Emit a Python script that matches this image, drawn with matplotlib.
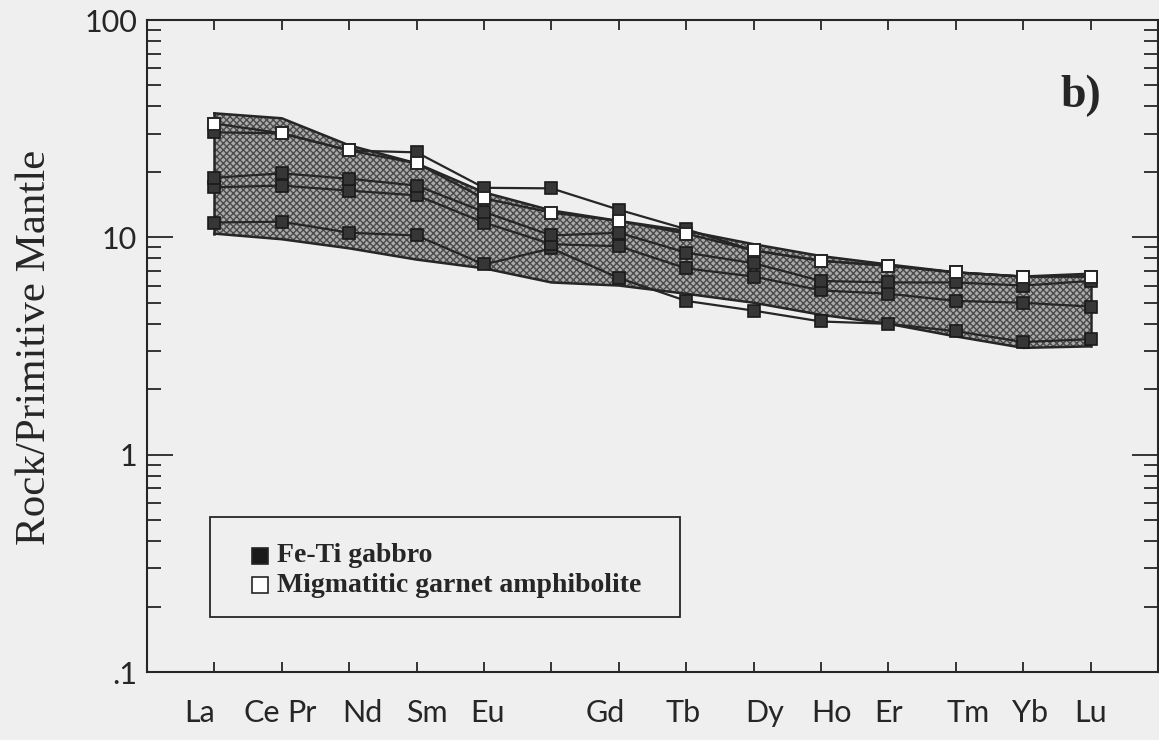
import matplotlib
matplotlib.use("Agg")
import matplotlib.pyplot as plt
from matplotlib.patches import Rectangle
from matplotlib.ticker import FixedLocator, FixedFormatter, NullFormatter

# REE normalised to primitive mantle
elements = ["La", "Ce", "Pr", "Nd", "Sm", "Eu", "Gd", "Tb", "Dy", "Ho", "Er", "Tm", "Yb", "Lu"]
positions = list(range(1, 15))

band_upper = [37.2, 35.3, 26.5, 21.9, 16.1, 13.3, 11.9, 10.7, 9.3, 8.2, 7.5, 6.9, 6.6, 6.8]
band_lower = [10.4, 9.8, 8.9, 7.9, 7.2, 6.2, 6.0, 5.5, 5.0, 4.4, 4.0, 3.5, 3.1, 3.15]

gabbro_1 = [30.4, 30.1, 25.1, 24.6, 16.9, 16.8, 13.4, 10.9, 8.7, 7.8, 7.4, 6.9, 6.6, 6.6]
gabbro_2 = [18.8, 19.7, 18.6, 17.3, 13.1, 10.2, 10.5, 8.5, 7.6, 6.3, 6.2, 6.2, 6.0, 6.3]
gabbro_3 = [17.0, 17.3, 16.4, 15.6, 11.7, 9.3, 9.1, 7.2, 6.6, 5.7, 5.5, 5.1, 5.0, 4.8]
gabbro_4 = [11.7, 11.8, 10.5, 10.2, 7.5, 8.9, 6.5, 5.1, 4.6, 4.1, 4.0, 3.7, 3.3, 3.4]
amphibolite = [33.4, 30.1, 25.1, 21.9, 15.1, 13.0, 11.9, 10.4, 8.7, 7.8, 7.4, 6.9, 6.6, 6.6]

legend_labels = ["Fe-Ti gabbro", "Migmatitic garnet amphibolite"]

# label x positions (data units) -- the original labels do not sit exactly under the ticks
label_x = [0.78, 1.7, 2.3, 3.2, 4.15, 5.05, 6.8, 7.95, 9.17, 10.16, 11.0, 12.18, 13.1, 14.0]

BG = "#efefef"
INK = "#262626"

fig = plt.figure(figsize=(11.59, 7.40), dpi=100, facecolor=BG)
ax = fig.add_axes([147 / 1159, 1 - 672 / 740, 1011 / 1159, 652 / 740], facecolor=BG)

ax.fill_between(positions, band_lower, band_upper, facecolor="#aaaaaa",
                edgecolor="#4a4a4a", hatch="xxxxx", linewidth=0, zorder=1)
ax.plot(positions, band_upper, color=INK, lw=1.8, zorder=2)
ax.plot(positions, band_lower, color=INK, lw=1.8, zorder=2)
ax.plot([positions[0]] * 2, [band_lower[0], band_upper[0]], color=INK, lw=1.8, zorder=2)
ax.plot([positions[-1]] * 2, [band_lower[-1], band_upper[-1]], color=INK, lw=1.8, zorder=2)

for series in (gabbro_4, gabbro_3, gabbro_2, gabbro_1):
    ax.plot(positions, series, color=INK, lw=1.6, marker="s", ms=9,
            mfc="#363636", mec="#1a1a1a", mew=1.2, zorder=3)
ax.plot(positions, amphibolite, color=INK, lw=1.6, marker="s", ms=9,
        mfc="white", mec=INK, mew=1.4, zorder=4)

ax.set_yscale("log")
ax.set_ylim(0.1, 100)
ax.set_xlim(0, 15)

ax.xaxis.set_major_locator(FixedLocator(positions))
ax.xaxis.set_major_formatter(NullFormatter())
ax.tick_params(axis="x", which="major", direction="in", length=7, width=1.3,
               color=INK, top=True, bottom=True)
ax.yaxis.set_major_locator(FixedLocator([0.1, 1, 10, 100]))
ax.yaxis.set_major_formatter(FixedFormatter([".1", "1", "10", "100"]))
ax.yaxis.set_minor_locator(FixedLocator([m * 10.0 ** e for e in (-1, 0, 1) for m in range(2, 10)]))
ax.yaxis.set_minor_formatter(NullFormatter())
ax.tick_params(axis="y", which="major", direction="in", length=19, width=1.3,
               color=INK, left=True, right=True, pad=7, labelsize=22, labelcolor=INK)
ax.tick_params(axis="y", which="minor", direction="in", length=10, width=1.3,
               color=INK, left=True, right=True)
for lab in ax.get_yticklabels():
    lab.set_family("Lato")
for sp in ax.spines.values():
    sp.set_color(INK)
    sp.set_linewidth(1.5)

for x, name in zip(label_x, elements):
    ax.text(x, -0.063, name, transform=ax.get_xaxis_transform(), ha="center",
            va="center", fontsize=22, family="Lato", color=INK)

fig.text(35 / 1159, 1 - 347 / 740, "Rock/Primitive Mantle", rotation=90,
         ha="center", va="center", fontsize=31, family="Liberation Serif", color=INK)

ax.text(0.924, 0.883, "b)", transform=ax.transAxes, ha="center", va="center",
        fontsize=33, fontweight="bold", family="Liberation Serif", color=INK)

# legend box drawn by hand to match the original spacing
ax.add_patch(Rectangle((0.0623, 0.0844), 0.4649, 0.1533, transform=ax.transAxes,
                       facecolor=BG, edgecolor=INK, lw=1.3, zorder=5))
for row, (label, face) in enumerate(zip(legend_labels, ["#1a1a1a", "white"])):
    yy = 0.178 - row * 0.0446
    ax.plot([0.1118], [yy], transform=ax.transAxes, ls="none", marker="s", ms=11,
            mfc=face, mec=INK, mew=1.2, zorder=6, clip_on=False)
    ax.text(0.1286, yy, label, transform=ax.transAxes, ha="left", va="center",
            fontsize=20, fontweight="bold", family="Liberation Serif", color=INK, zorder=6)

fig.savefig("out.png", dpi=100, facecolor=BG)
